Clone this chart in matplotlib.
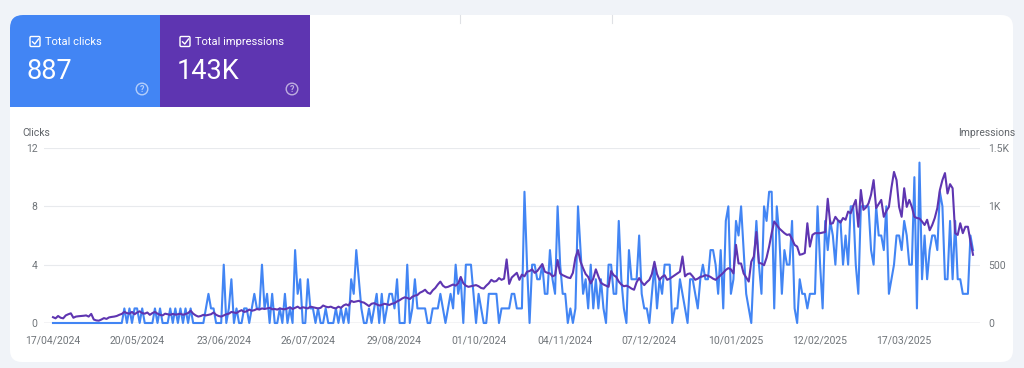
import pandas as pd
import matplotlib
matplotlib.use("Agg")
import matplotlib.pyplot as plt
import matplotlib.dates as mdates
from matplotlib.patches import FancyBboxPatch, Rectangle, Circle
from matplotlib.lines import Line2D

plt.rcParams['font.family'] = ['Roboto', 'DejaVu Sans']

# daily values, 17/04/2024 onwards
start_date = "2024-04-17"

clicks = [
    0, 0, 0, 0, 0, 0, 0, 0, 0, 0,
    0, 0, 0, 0, 0, 0, 0, 0, 0, 0,
    0, 0, 0, 0, 0, 0, 0, 0, 1, 0,
    1, 0, 1, 1, 0, 1, 0, 0, 0, 0,
    1, 0, 1, 0, 0, 0, 1, 0, 1, 0,
    1, 0, 1, 0, 1, 0, 0, 0, 0, 0,
    1, 2, 1, 1, 0, 0, 0, 4, 0, 1,
    3, 0, 1, 0, 0, 1, 1, 0, 1, 2,
    1, 1, 4, 1, 2, 0, 2, 0, 0, 1,
    0, 2, 0, 1, 0, 5, 2, 3, 0, 0,
    3, 1, 1, 0, 1, 0, 0, 1, 0, 0,
    0, 1, 0, 1, 0, 1, 0, 3, 2, 5,
    3, 1, 0, 0, 1, 0, 1, 2, 0, 2,
    0, 1, 2, 2, 1, 3, 0, 0, 0, 4,
    0, 1, 3, 1, 1, 1, 1, 0, 0, 1,
    1, 1, 2, 1, 0, 1, 2, 1, 4, 2,
    3, 0, 4, 4, 4, 2, 0, 2, 1, 0,
    0, 2, 2, 2, 2, 0, 1, 1, 1, 1,
    2, 2, 1, 1, 1, 9, 4, 0, 4, 4,
    3, 3, 4, 2, 2, 5, 3, 2, 8, 4,
    2, 2, 0, 1, 0, 1, 8, 5, 2, 3,
    1, 4, 1, 3, 1, 3, 1, 0, 4, 4,
    2, 2, 7, 3, 1, 0, 5, 3, 3, 3,
    6, 2, 1, 1, 0, 2, 4, 1, 3, 2,
    4, 4, 4, 0, 1, 1, 3, 2, 1, 0,
    3, 3, 2, 1, 3, 4, 3, 3, 5, 5,
    4, 2, 5, 1, 7, 8, 2, 3, 7, 6,
    8, 5, 2, 1, 0, 4, 7, 4, 2, 8,
    7, 9, 9, 1, 8, 6, 2, 5, 4, 4,
    7, 1, 0, 3, 2, 2, 1, 2, 2, 2,
    8, 4, 1, 7, 5, 7, 6, 4, 7, 7,
    4, 6, 4, 8, 8, 4, 2, 8, 8, 8,
    8, 5, 4, 8, 6, 6, 5, 8, 2, 3,
    4, 6, 6, 5, 7, 6, 4, 4, 10, 1,
    11, 3, 6, 3, 5, 6, 6, 5, 9, 8,
    3, 3, 7, 3, 7, 3, 3, 2, 2, 2,
    6, 5,
]

impressions = [
    50, 40, 60, 45, 40, 65, 75, 83, 45, 55,
    58, 60, 62, 65, 55, 78, 30, 22, 20, 30,
    42, 35, 48, 52, 55, 60, 70, 78, 95, 85,
    80, 95, 75, 90, 100, 85, 80, 90, 70, 85,
    95, 80, 70, 65, 80, 75, 70, 78, 72, 75,
    80, 70, 78, 85, 105, 80, 65, 55, 60, 70,
    65, 70, 75, 90, 70, 60, 55, 65, 75, 80,
    95, 90, 85, 100, 110, 95, 100, 115, 105, 110,
    120, 115, 125, 120, 125, 130, 118, 120, 115, 125,
    120, 118, 125, 135, 120, 130, 140, 125, 135, 130,
    125, 140, 135, 130, 125, 130, 150, 140, 135, 140,
    130, 125, 140, 130, 150, 160, 150, 190, 180, 185,
    190, 180, 175, 160, 145, 165, 170, 160, 150, 155,
    165, 160, 155, 165, 170, 185, 195, 210, 220, 215,
    205, 225, 235, 240, 260, 270, 285, 260, 250, 280,
    300, 330, 355, 320, 305, 310, 320, 330, 320, 340,
    395, 340, 320, 310, 315, 320, 325, 315, 300, 295,
    320, 340, 370, 355, 360, 385, 370, 380, 545, 335,
    390, 410, 430, 370, 415, 400, 440, 445, 460, 430,
    445, 475, 505, 440, 430, 425, 400, 410, 540, 425,
    410, 400, 390, 385, 430, 560, 625, 525, 470, 420,
    395, 340, 380, 460, 400, 345, 330, 320, 310, 445,
    410, 395, 355, 330, 315, 320, 310, 295, 285, 350,
    385, 350, 325, 350, 370, 420, 525, 420, 370, 395,
    410, 370, 380, 395, 410, 425, 440, 570, 400, 420,
    425, 400, 370, 380, 395, 400, 410, 405, 395, 380,
    370, 390, 410, 430, 455, 470, 460, 425, 670, 510,
    510, 425, 390, 355, 525, 570, 780, 515, 510, 495,
    560, 655, 770, 870, 840, 810, 790, 770, 755, 760,
    720, 670, 655, 585, 590, 600, 855, 655, 755, 770,
    770, 770, 775, 780, 1065, 850, 855, 910, 880, 860,
    900, 885, 955, 940, 1000, 1055, 825, 1140, 970, 990,
    1025, 1100, 1225, 985, 1020, 1055, 910, 960, 995, 1160,
    1295, 1225, 995, 910, 1155, 995, 1055, 995, 910, 900,
    895, 870, 840, 885, 795, 840, 900, 985, 1140, 1225,
    1285, 1110, 1190, 1155, 770, 755, 855, 770, 825, 825,
    700, 585,
]

tick_dates = ["2024-04-17", "2024-05-20", "2024-06-23", "2024-07-26",
              "2024-08-29", "2024-10-01", "2024-11-04", "2024-12-07",
              "2025-01-10", "2025-02-12", "2025-03-17"]
metric_names = ["Total clicks", "Total impressions"]
metric_totals = ["887", "143K"]
clicks_ticks = [0, 4, 8, 12]
impression_ticks = [0, 500, 1000, 1500]
impression_labels = ["0", "500", "1K", "1.5K"]

BLUE = "#4285f4"
PURPLE = "#5e35b1"
GREY_TXT = "#70757a"

W, H = 1024, 368
fig = plt.figure(figsize=(W / 100, H / 100), dpi=100)
fig.patch.set_facecolor("#f0f3f8")
tr = fig.dpi_scale_trans


def inch(x, y):
    # pixel position (from top-left) -> inches for dpi_scale_trans
    return x / 100, (H - y) / 100


def box(x0, y0, x1, y1, color, rounding=None, z=-5):
    if rounding:
        p = FancyBboxPatch(inch(x0, y1), (x1 - x0) / 100, (y1 - y0) / 100,
                           boxstyle="round,pad=0,rounding_size=%f" % rounding,
                           fc=color, ec="none", transform=tr, zorder=z)
    else:
        p = Rectangle(inch(x0, y1), (x1 - x0) / 100, (y1 - y0) / 100,
                      fc=color, ec="none", transform=tr, zorder=z)
    fig.add_artist(p)


# white card
box(10, 15, 1013, 362, "white", rounding=0.12, z=-10)
for sx in [460, 612]:
    fig.add_artist(Line2D([sx / 100, sx / 100], [(H - 15) / 100, (H - 23) / 100],
                          color="#dfe1e5", lw=0.8, transform=tr, zorder=-4))

# metric tiles
box(10, 15, 160, 107, BLUE, rounding=0.13, z=-6)
box(30, 15, 160, 107, BLUE, z=-6)
box(10, 35, 160, 107, BLUE, z=-6)
box(160, 15, 310, 107, PURPLE, z=-6)

for i, (name, total) in enumerate(zip(metric_names, metric_totals)):
    ox = 150 * i
    # checkbox
    fig.add_artist(FancyBboxPatch(inch(30 + ox, 46.5), 0.10, 0.10,
                                  boxstyle="round,pad=0,rounding_size=0.012",
                                  fc="none", ec="white", lw=1.0, transform=tr))
    cx = [32.5 + ox, 34.8 + ox, 38.5 + ox]
    cy = [41.8, 44.0, 39.0]
    fig.add_artist(Line2D([v / 100 for v in cx], [(H - v) / 100 for v in cy],
                          color="white", lw=1.0, transform=tr))
    fig.text((45 + ox) / W, 1 - 42 / H, name, color="white", fontsize=8.0,
             va="center", ha="left")
    fig.text((27 + ox) / W, 1 - 71.5 / H, total, color="white", fontsize=19.5,
             va="center", ha="left")
    # help icon
    fig.add_artist(Circle(inch(142 + ox, 89), 0.058, fc="none",
                          ec=(1, 1, 1, 0.6), lw=1.0, transform=tr))
    fig.text((142 + ox) / W, 1 - 89.5 / H, "?", color=(1, 1, 1, 0.6),
             fontsize=6.5, va="center", ha="center", fontweight="bold")

# chart
dates = pd.date_range(start_date, periods=len(clicks), freq="D")
d0 = mdates.date2num(dates[0])
d1 = mdates.date2num(dates[-1])
ppd = (973 - 53) / (d1 - d0)

ax = fig.add_axes([44 / W, (H - 323) / H, (980 - 44) / W, (323 - 148) / H])
ax.patch.set_alpha(0)
ax.plot(dates, clicks, color=BLUE, lw=1.5, clip_on=False, zorder=3)
ax.set_ylim(0, 12)
ax.set_xlim(d0 - 9 / ppd, d1 + 7 / ppd)
ax.set_yticks(clicks_ticks)
ax.set_yticklabels([str(v) for v in clicks_ticks])
ax.grid(axis="y", color="#e8eaed", lw=0.8)
ax.axhline(0, color="#aeb2b7", lw=0.9, zorder=2)
ax.set_xticks([mdates.date2num(pd.Timestamp(d)) for d in tick_dates])
ax.xaxis.set_major_formatter(mdates.DateFormatter("%d/%m/%Y"))
for s in ax.spines.values():
    s.set_visible(False)
ax.tick_params(axis="both", length=0, labelsize=7.5, labelcolor=GREY_TXT)
ax.tick_params(axis="y", pad=4.5)
ax.tick_params(axis="x", pad=9)

ax2 = ax.twinx()
ax2.plot(dates, impressions, color=PURPLE, lw=1.5, clip_on=False, zorder=3)
ax2.set_ylim(0, 1500)
ax2.set_yticks(impression_ticks)
ax2.set_yticklabels(impression_labels)
for s in ax2.spines.values():
    s.set_visible(False)
ax2.tick_params(axis="y", length=0, labelsize=7.5, labelcolor=GREY_TXT, pad=6)

fig.text(22 / W, 1 - 133 / H, "Clicks", fontsize=7.5, color="#5f6368", va="center")
fig.text(1015 / W, 1 - 133 / H, "Impressions", fontsize=7.5, color="#5f6368",
         va="center", ha="right")

fig.savefig("out.png", dpi=100, facecolor=fig.get_facecolor())
